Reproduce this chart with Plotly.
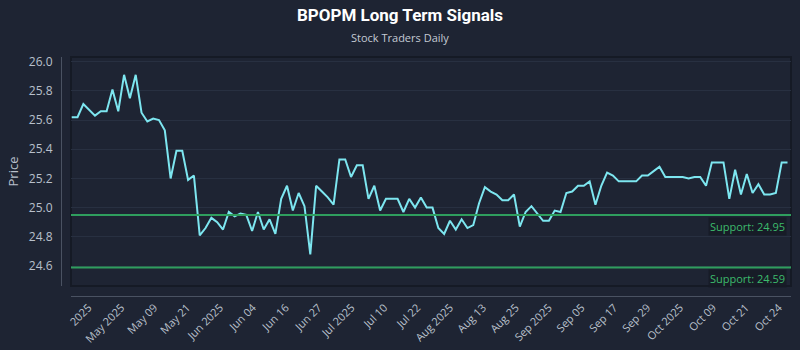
import plotly.graph_objects as go
import numpy as np

# ---- data ----
prices = [
    25.62, 25.62, 25.71, 25.67, 25.63, 25.66, 25.66, 25.81, 25.66, 25.91,
    25.75, 25.91, 25.65, 25.59, 25.61, 25.60, 25.53, 25.20, 25.39, 25.39,
    25.19, 25.22, 24.81, 24.86, 24.93, 24.90, 24.85, 24.97, 24.94, 24.96,
    24.95, 24.84, 24.97, 24.85, 24.92, 24.82, 25.06, 25.15, 24.98, 25.10,
    25.01, 24.68, 25.15, 25.11, 25.07, 25.02, 25.33, 25.33, 25.21, 25.29,
    25.29, 25.06, 25.15, 24.98, 25.06, 25.06, 25.06, 24.97, 25.06, 25.00,
    25.07, 25.00, 25.00, 24.86, 24.82, 24.91, 24.85, 24.92, 24.86, 24.88,
    25.03, 25.14, 25.11, 25.09, 25.05, 25.05, 25.09, 24.87, 24.97, 25.01,
    24.96, 24.91, 24.91, 24.98, 24.97, 25.10, 25.11, 25.15, 25.15, 25.18,
    25.02, 25.15, 25.24, 25.22, 25.18, 25.18, 25.18, 25.18, 25.22, 25.22,
    25.25, 25.28, 25.21, 25.21, 25.21, 25.21, 25.20, 25.21, 25.21, 25.15,
    25.31, 25.31, 25.31, 25.06, 25.26, 25.09, 25.23, 25.10, 25.16, 25.09,
    25.09, 25.10, 25.31, 25.31,
]
tick_labels = [
    "2025", "May 2025", "May 09", "May 21", "Jun 2025", "Jun 04", "Jun 16",
    "Jun 27", "Jul 2025", "Jul 10", "Jul 22", "Aug 2025", "Aug 13", "Aug 25",
    "Sep 2025", "Sep 05", "Sep 17", "Sep 29", "Oct 2025", "Oct 09", "Oct 21",
    "Oct 24",
]
support_levels = [24.95, 24.59]
support_labels = ["Support: 24.95", "Support: 24.59"]

x_idx = list(range(len(prices)))
tick_pos = np.linspace(2.9, 121.5, len(tick_labels))

BG = "#1e2433"
LINE = "#7de6f0"
GREEN = "#2f9e5e"
GREEN_TXT = "#3dbb6c"
GRID = "#283041"
AXIS = "#4a5262"
TXT = "#b9c0cc"

fig = go.Figure()
fig.add_trace(go.Scatter(
    x=x_idx, y=prices, mode="lines",
    line=dict(color=LINE, width=2),
    showlegend=False, hoverinfo="skip",
))

shapes = []
annotations = []
for lvl, lab in zip(support_levels, support_labels):
    shapes.append(dict(type="line", xref="x domain", yref="y",
                       x0=0, x1=1, y0=lvl, y1=lvl,
                       line=dict(color=GREEN, width=2)))
    annotations.append(dict(xref="x domain", yref="y", x=0.995, y=lvl,
                            xanchor="right", yanchor="top", yshift=-2,
                            text=lab, showarrow=False,
                            font=dict(color=GREEN_TXT, size=11, family="Open Sans"),
                            bgcolor="rgba(22,27,38,0.85)", borderpad=1))
# plot border
shapes.append(dict(type="rect", xref="x domain", yref="y domain",
                   x0=0, x1=1, y0=0, y1=1, layer="below",
                   line=dict(color="#151a25", width=2)))

annotations.append(dict(xref="paper", yref="paper", x=0.4644, y=1.083,
                        xanchor="center", yanchor="middle",
                        text="Stock Traders Daily", showarrow=False,
                        font=dict(color="#c4cad4", size=11, family="Open Sans")))

fig.update_layout(
    template="none",
    width=800, height=350,
    paper_bgcolor=BG, plot_bgcolor=BG,
    margin=dict(l=61, r=9, t=57, b=54),
    title=dict(text="<b>BPOPM Long Term Signals</b>", x=0.5, xanchor="center",
               y=1 - 15 / 350, yanchor="middle",
               font=dict(color="#ffffff", size=17, family="Roboto")),
    font=dict(family="Open Sans", color=TXT, size=11),
    shapes=shapes, annotations=annotations,
    xaxis=dict(domain=[10 / 730, 1], anchor="free", position=0,
               automargin=False,
               range=[-0.12, 123.6], showgrid=False, zeroline=False,
               showline=True, linecolor=AXIS, linewidth=1, ticks="",
               tickmode="array", tickvals=tick_pos, ticktext=tick_labels,
               tickangle=-45, tickfont=dict(size=11, color=TXT)),
    yaxis=dict(domain=[10 / 239, 1], anchor="free", position=0,
               automargin=False,
               range=[24.463, 26.032], showgrid=True, gridcolor=GRID, gridwidth=1,
               zeroline=False, showline=True, linecolor=AXIS, linewidth=1, ticks="",
               tickvals=[24.6, 24.8, 25.0, 25.2, 25.4, 25.6, 25.8, 26.0],
               tickformat=".1f", ticklabelstandoff=6,
               tickfont=dict(size=12, color=TXT),
               title=dict(text="Price", font=dict(size=13, color=TXT), standoff=6)),
)

fig.write_html("out.html")
